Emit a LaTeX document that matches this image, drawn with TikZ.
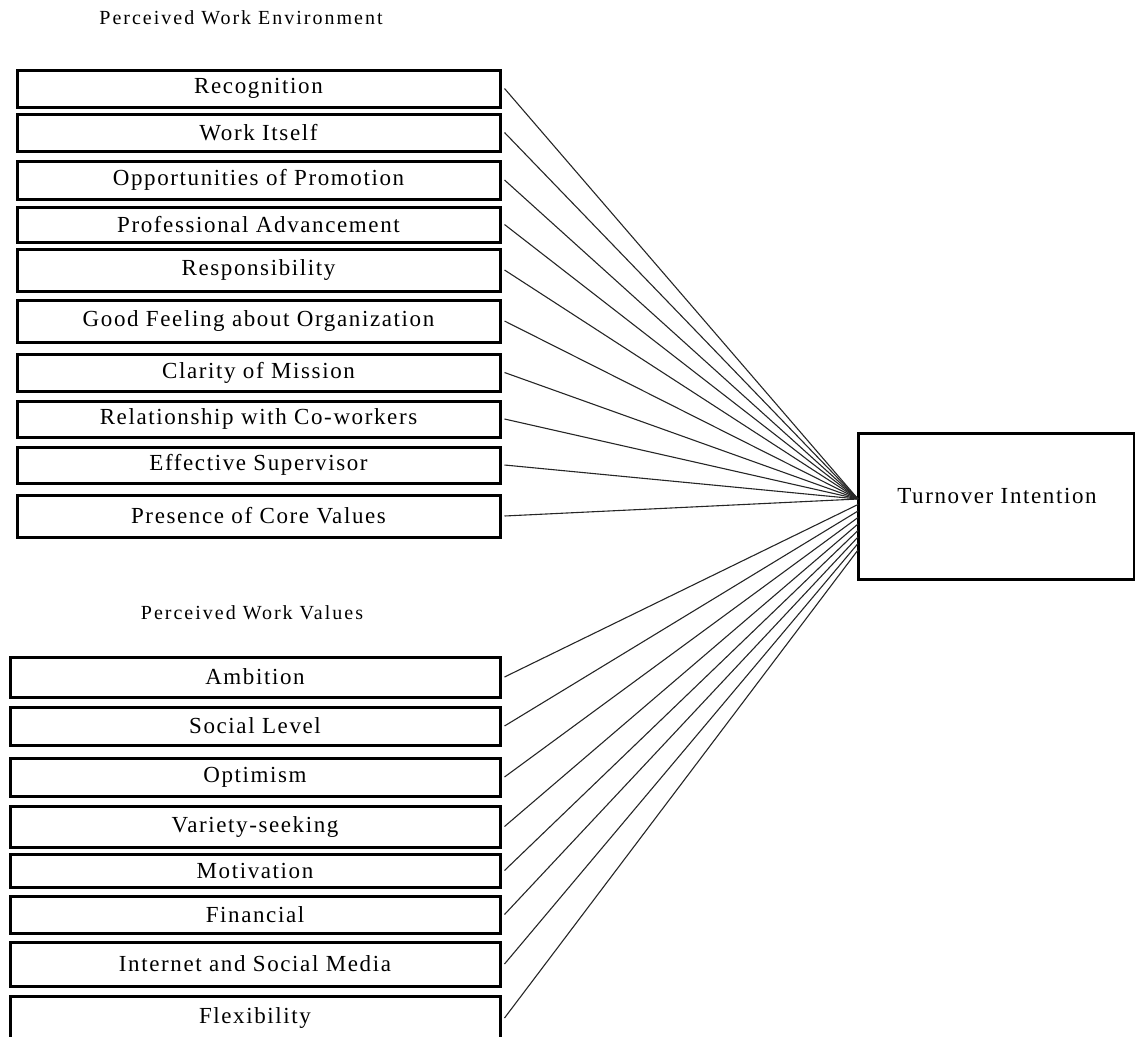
\documentclass[tikz,border=0pt]{standalone}
\usepackage{fontspec}
\setmainfont{Liberation Serif}
\newfontfamily\boxfont[LetterSpace=7]{Liberation Serif}
\newfontfamily\headfont[LetterSpace=10]{Liberation Serif}
\usetikzlibrary{positioning}

\begin{document}
\begin{tikzpicture}[x=1pt,y=-1pt,
    factor/.style={draw,line width=3pt,inner sep=0pt,
        font=\fontsize{23}{27}\boxfont},
    heading/.style={font=\fontsize{20}{24}\headfont},
    link/.style={line width=1.1pt,black!85}]
\useasboundingbox (0,0) rectangle (1135,1036);

% Define the outcome box
\node[factor,minimum width=276,minimum height=146] (turn) at (996,506) {};
\node[font=\fontsize{23}{27}\boxfont] (turnlabel) at (997,496) {Turnover Intention};
\coordinate (hub) at (858,499);

% Perceived work environment
\node[heading] (envtitle) at (241,18) {Perceived Work Environment};
\foreach \i/\yc/\h/\txt in {1/88.5/37/Recognition,
    2/132.5/37/Work Itself,
    3/180/38/Opportunities of Promotion,
    4/224.5/35/Professional Advancement,
    5/270/42/Responsibility,
    6/321/42/Good Feeling about Organization,
    7/372.5/37/Clarity of Mission,
    8/419/36/Relationship with Co-workers,
    9/465/36/Effective Supervisor,
    10/516/42/Presence of Core Values}
    \node[factor,minimum width=483,minimum height=\h] (env\i) at (258.5,\yc) {\txt};

% Perceived work values
\node[heading] (valtitle) at (252,613) {Perceived Work Values};
\foreach \i/\yc/\h/\txt in {1/677/40/Ambition,
    2/726/38/Social Level,
    3/777/38/Optimism,
    4/826.5/41/Variety-seeking,
    5/870.5/33/Motivation,
    6/914.5/37/Financial,
    7/964/44/Internet and Social Media,
    8/1018/44/Flexibility}
    \node[factor,minimum width=490,minimum height=\h] (val\i) at (255,\yc) {\txt};

% Draw the links to the outcome
\foreach \i in {1,...,10}
    \draw[link] ([xshift=3pt]env\i.east) -- (hub);
\foreach \i in {1,...,8}
    \coordinate (H\i) at (858,{498+6.5*\i});
\foreach \i in {1,...,8}
    \draw[link] ([xshift=3pt]val\i.east) -- (H\i);
\end{tikzpicture}
\end{document}
